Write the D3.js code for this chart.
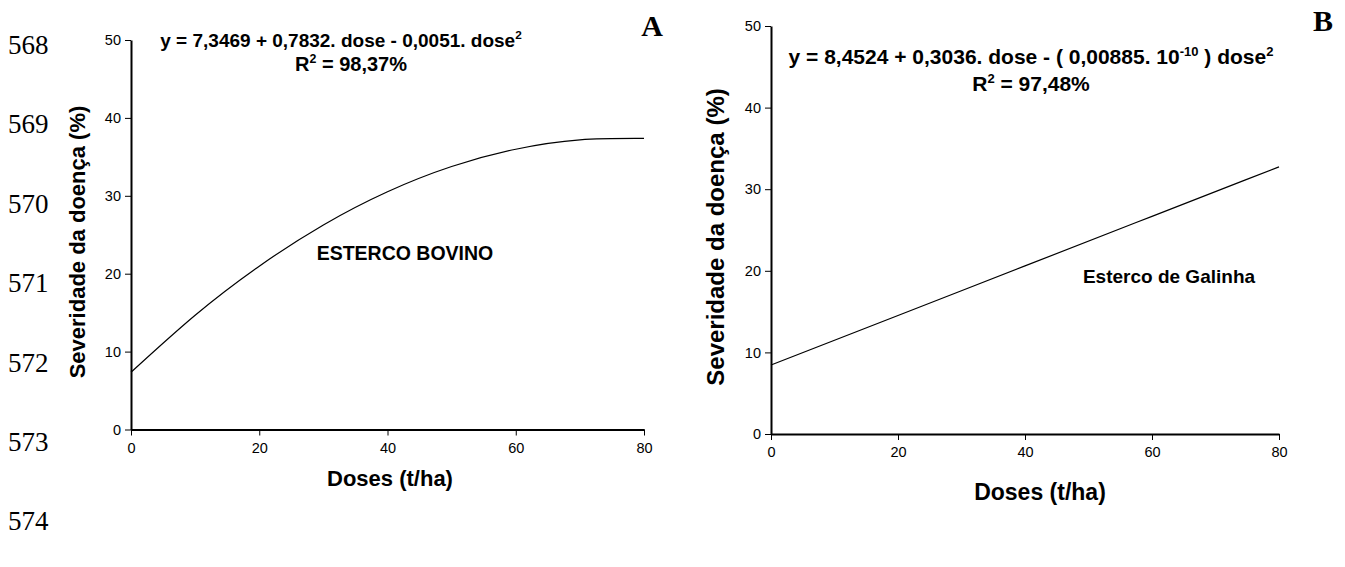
<!DOCTYPE html>
<html><head><meta charset="utf-8">
<script src="https://cdn.jsdelivr.net/npm/d3@7"></script>
<style>
body{margin:0;background:#fff;}
svg{display:block;}
text{font-family:"Liberation Sans",Arial,sans-serif;fill:#000;}
.serif{font-family:"Liberation Serif","Times New Roman",serif;}
</style></head><body>
<script>
// Data
const lineNumbers = ["568","569","570","571","572","573","574"];
const xTicks = [0,20,40,60,80];
const yTicks = [0,10,20,30,40,50];
const dosesA = [0,10,20,30,40,50,60,70,80];
const severityA = [7.35,14.67,20.97,26.26,30.52,33.76,35.98,37.18,37.36];
const dosesB = [0,20,40,60,80];
const severityB = [8.45,14.52,20.60,26.67,32.74];

const W=1345,H=567;
const svg=d3.select("body").append("svg").attr("width",W).attr("height",H);

svg.selectAll("text.ln").data(lineNumbers).join("text").attr("class","serif ln")
  .attr("x",8).attr("y",(d,i)=>54+i*79.4).style("font-size","27px").text(d=>d);

function panel(cfg){
  const x=d3.scaleLinear().domain([0,80]).range([cfg.x0,cfg.x1]);
  const y=d3.scaleLinear().domain([0,50]).range([cfg.y0,cfg.y1]);
  const g=svg.append("g");
  const ya=g.append("g").attr("transform",`translate(${cfg.x0},0)`)
    .call(d3.axisLeft(y).tickValues(yTicks).tickSize(6).tickSizeOuter(0).tickPadding(4));
  const xa=g.append("g").attr("transform",`translate(0,${cfg.y0})`)
    .call(d3.axisBottom(x).tickValues(xTicks).tickSize(6).tickSizeOuter(0).tickPadding(7));
  [ya,xa].forEach(a=>{
    a.select(".domain").attr("stroke","#000").attr("stroke-width",2);
    a.selectAll(".tick line").attr("stroke","#000").attr("stroke-width",1);
    a.selectAll(".tick text").style("font-size","14.5px").style("font-family","'Liberation Sans',Arial,sans-serif").attr("fill","#000");
  });
  const line=d3.line().x(d=>x(d[0])).y(d=>y(d[1])).curve(d3.curveNatural);
  g.append("path").datum(cfg.xs.map((v,i)=>[v,cfg.ys[i]]))
    .attr("d",line).attr("fill","none").attr("stroke","#000").attr("stroke-width",1.2);
  g.append("text").attr("transform",`translate(${cfg.ytX},${cfg.ytY}) rotate(-90)`)
    .attr("text-anchor","middle").style("font-weight","bold").style("font-size",cfg.ytSize+"px")
    .text("Severidade da doença (%)");
  g.append("text").attr("x",cfg.xtX).attr("y",cfg.xtY).attr("text-anchor","middle")
    .style("font-weight","bold").style("font-size",cfg.xtSize+"px").text("Doses (t/ha)");
  return {x,y,g};
}

panel({x0:131,x1:644,y0:429.5,y1:40,xs:dosesA,ys:severityA,ytX:85,ytY:242,ytSize:22,xtX:390,xtY:486,xtSize:22});
panel({x0:771,x1:1279,y0:434,y1:26,xs:dosesB,ys:severityB,ytX:724,ytY:237,ytSize:24,xtX:1040,xtY:500,xtSize:23});

function eq(x,y,size,parts){
  const t=svg.append("text").attr("x",x).attr("y",y).attr("text-anchor","middle")
    .style("font-weight","bold").style("font-size",size+"px");
  let up=false;
  parts.forEach(p=>{
    const s=t.append("tspan").text(p.t);
    if(p.sup && !up){s.attr("dy",-size*0.4).style("font-size",(size*0.62)+"px");up=true;}
    else if(!p.sup && up){s.attr("dy",size*0.4);up=false;}
    else if(p.sup){s.style("font-size",(size*0.62)+"px");}
  });
}
eq(341,47,19,[{t:"y = 7,3469 + 0,7832. dose - 0,0051. dose"},{t:"2",sup:true}]);
eq(351,71,20,[{t:"R"},{t:"2",sup:true},{t:" = 98,37%"}]);
eq(1031,64,21,[{t:"y = 8,4524  + 0,3036. dose - ( 0,00885. 10"},{t:"-10",sup:true},{t:" ) dose"},{t:"2",sup:true}]);
eq(1031,91,21,[{t:"R"},{t:"2",sup:true},{t:" = 97,48%"}]);

svg.append("text").attr("x",405).attr("y",260).attr("text-anchor","middle")
  .style("font-weight","bold").style("font-size","19.5px").text("ESTERCO BOVINO");
svg.append("text").attr("x",1169).attr("y",283).attr("text-anchor","middle")
  .style("font-weight","bold").style("font-size","19px").text("Esterco de Galinha");

svg.append("text").attr("class","serif").attr("x",652).attr("y",36).attr("text-anchor","middle")
  .style("font-weight","bold").style("font-size","30px").text("A");
svg.append("text").attr("class","serif").attr("x",1323).attr("y",31).attr("text-anchor","middle")
  .style("font-weight","bold").style("font-size","30px").text("B");
</script>
</body></html>
